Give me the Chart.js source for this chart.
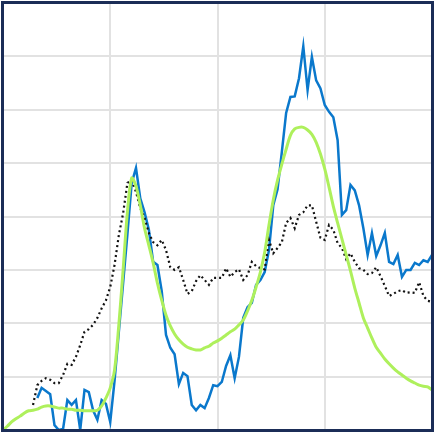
<!DOCTYPE html>
<html>
<head>
<meta charset="utf-8">
<script src="https://cdn.jsdelivr.net/npm/chart.js@4/dist/chart.umd.min.js"></script>
<style>
  body { margin: 0; background: #fff; }
</style>
</head>
<body>
<canvas id="chart1" width="447" height="433"></canvas>
<script>
// x positions: one point per period, 0..100
const periods = Array.from({ length: 101 }, (_, i) => i);

const blueSeries = [
    null, null, null, null, null, null, null, null,
    6.0, 7.9, 7.3, 6.7, 0.9, 0.0, 0.2, 5.6, 4.7, 5.6, 0.0, 7.5,
    7.1, 3.7, 1.9, 5.6, 4.9, 1.5, 9.2, 18.4, 27.5, 36.7,
    46.3, 49.1, 43.4, 40.8, 37.5, 31.5, 30.9, 26.0, 17.8, 15.4,
    14.2, 8.6, 10.7, 10.1, 4.7, 3.7, 4.7, 4.1, 6.0, 8.4,
    8.2, 9.0, 12.0, 14.0, 9.7, 13.7, 21.0, 23.0, 23.8, 27.2,
    28.1, 29.6, 33.7, 42.1, 45.1, 52.1, 59.4, 62.4, 62.5, 65.9,
    71.9, 63.7, 69.9, 65.5, 64.0, 60.9, 59.6, 58.6, 54.3, 40.3,
    41.2, 45.9, 44.9, 42.1, 37.8, 32.8, 36.9, 32.6, 34.6, 36.9,
    31.5, 31.1, 32.8, 28.7, 30.0, 30.0, 31.3, 30.9, 31.8, 31.5,
    32.8
];

const dottedSeries = [
    null, null, null, null, null, null, null,
    4.7, 8.4, 9.2, 9.7, 9.4, 8.8, 8.8, 10.3, 12.4, 12.2, 13.7, 15.9, 18.4,
    18.9, 19.7, 21.0, 22.8, 24.3, 26.8, 30.9, 36.5, 40.6, 46.3,
    46.8, 44.6, 41.6, 39.7, 36.9, 35.2, 34.6, 35.6, 33.7, 30.5,
    30.0, 30.5, 28.1, 25.5, 26.0, 27.9, 29.0, 28.1, 27.2, 28.5,
    28.5, 28.5, 30.3, 28.7, 29.6, 30.1, 28.1, 29.0, 31.5, 30.7,
    30.3, 30.1, 35.6, 33.1, 34.1, 35.2, 38.8, 39.7, 37.8, 40.3,
    40.8, 42.1, 42.1, 39.0, 36.0, 35.6, 38.4, 37.5, 35.0, 34.1,
    32.0, 33.1, 31.5, 30.3, 30.0, 29.2, 29.4, 30.5, 28.8, 27.0,
    25.1, 25.5, 26.0, 26.2, 25.7, 25.8, 25.7, 27.7, 25.1, 24.2,
    24.0
];

const greenSeries = [
    0.0, 0.7, 1.5, 2.1, 2.6, 3.2, 3.6, 3.7, 3.9, 4.3,
    4.5, 4.5, 4.3, 4.1, 4.1, 3.9, 3.9, 3.7, 3.7, 3.6,
    3.6, 3.6, 3.7, 4.5, 6.0, 7.9, 11.2, 19.7, 30.0, 40.8,
    47.2, 45.7, 42.1, 37.8, 34.6, 31.3, 27.5, 24.3, 21.5, 19.5,
    18.0, 16.9, 16.1, 15.5, 15.2, 15.0, 15.0, 15.4, 15.7, 16.3,
    16.7, 17.2, 17.8, 18.4, 18.9, 19.7, 20.6, 22.3, 24.3, 26.8,
    29.6, 33.3, 38.4, 43.1, 46.8, 49.8, 52.6, 55.2, 56.4, 56.7,
    56.7, 56.2, 55.4, 53.9, 51.7, 48.9, 45.5, 41.9, 38.8, 35.8,
    32.8, 29.8, 26.6, 23.8, 21.0, 19.1, 17.2, 15.5, 14.4, 13.3,
    12.4, 11.6, 10.9, 10.3, 9.7, 9.2, 8.8, 8.4, 8.2, 8.1,
    7.5
];

// navy frame around the plot area
const framePlugin = {
    id: 'frame',
    afterDraw(chart) {
        const a = chart.chartArea;
        const ctx = chart.ctx;
        ctx.save();
        ctx.strokeStyle = '#1b2d57';
        ctx.lineWidth = 3;
        ctx.strokeRect(a.left - 0.5, a.top - 0.5, a.right - a.left + 1, a.bottom - a.top + 1);
        ctx.restore();
    }
};

let ctx = document.getElementById('chart1').getContext('2d');
let myChart = new Chart(ctx, {
    type: 'line',
    data: {
        labels: periods,
        datasets: [{
            label: 'green',
            data: greenSeries,
            borderColor: '#aef05c',
            borderWidth: 3,
            pointRadius: 0,
            tension: 0.3,
            order: 0
        }, {
            label: 'dotted',
            data: dottedSeries,
            borderColor: '#111111',
            borderWidth: 2.2,
            borderDash: [2, 3],
            pointRadius: 0,
            tension: 0,
            order: 1
        }, {
            label: 'blue',
            data: blueSeries,
            borderColor: '#0a78cc',
            borderWidth: 2.5,
            pointRadius: 0,
            tension: 0,
            order: 2
        }]
    },
    options: {
        responsive: false,
        animation: false,
        layout: { padding: { left: 3, top: 3, right: 15, bottom: 3 } },
        plugins: { legend: { display: false }, tooltip: { enabled: false } },
        scales: {
            x: {
                type: 'linear',
                min: 0,
                max: 100,
                ticks: { display: false, stepSize: 25 },
                grid: { color: '#e2e2e2', lineWidth: 2, drawTicks: false },
                border: { display: false }
            },
            y: {
                min: 0,
                max: 80,
                ticks: { display: false, stepSize: 10 },
                grid: { color: '#e2e2e2', lineWidth: 2, drawTicks: false },
                border: { display: false }
            }
        }
    },
    plugins: [framePlugin]
});
</script>
</body>
</html>
